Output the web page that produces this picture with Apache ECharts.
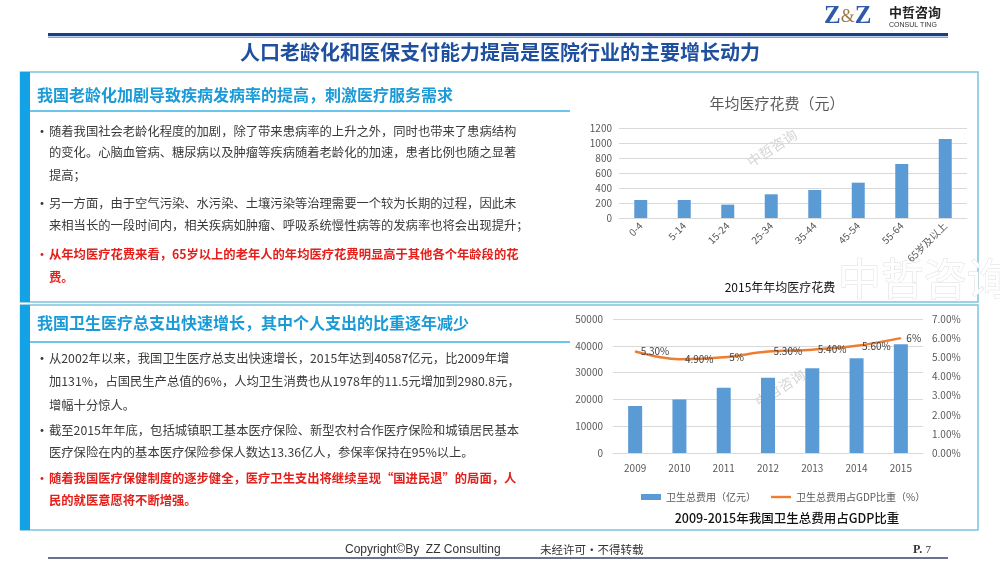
<!DOCTYPE html>
<html>
<head>
<meta charset="utf-8">
<script src="https://cdn.jsdelivr.net/npm/echarts@6/dist/echarts.min.js"></script>
<style>
html,body{margin:0;padding:0;background:#fff;}
#c{width:1000px;height:563px;}
</style>
</head>
<body>
<div id="c"></div>
<script>
// ---- data ----
const ageCats = ['0-4','5-14','15-24','25-34','35-44','45-54','55-64','65岁及以上'];
const ageCost = [240, 240, 178, 316, 373, 471, 720, 1053];
const years = ['2009','2010','2011','2012','2013','2014','2015'];
const healthSpend = [17542, 19980, 24346, 28119, 31669, 35312, 40587];
const gdpShare = [5.3, 4.9, 5.0, 5.3, 5.4, 5.6, 6.0];
const gdpShareLabels = ['5.30%','4.90%','5%','5.30%','5.40%','5.60%','6%'];
const pageTitle = '人口老龄化和医保支付能力提高是医院行业的主要增长动力';
const sec1Title = '我国老龄化加剧导致疾病发病率的提高，刺激医疗服务需求';
const sec1Lines = [
  {t:'随着我国社会老龄化程度的加剧，除了带来患病率的上升之外，同时也带来了患病结构', y:131, b:true},
  {t:'的变化。心脑血管病、糖尿病以及肿瘤等疾病随着老龄化的加速，患者比例也随之显著', y:152},
  {t:'提高；', y:175},
  {t:'另一方面，由于空气污染、水污染、土壤污染等治理需要一个较为长期的过程，因此未', y:203, b:true},
  {t:'来相当长的一段时间内，相关疾病如肿瘤、呼吸系统慢性病等的发病率也将会出现提升；', y:225},
  {t:'从年均医疗花费来看，65岁以上的老年人的年均医疗花费明显高于其他各个年龄段的花', y:254, b:true, red:true},
  {t:'费。', y:277, red:true}
];
const sec2Title = '我国卫生医疗总支出快速增长，其中个人支出的比重逐年减少';
const sec2Lines = [
  {t:'从2002年以来，我国卫生医疗总支出快速增长，2015年达到40587亿元，比2009年增', y:358, b:true},
  {t:'加131%，占国民生产总值的6%，人均卫生消费也从1978年的11.5元增加到2980.8元，', y:381},
  {t:'增幅十分惊人。', y:405},
  {t:'截至2015年年底，包括城镇职工基本医疗保险、新型农村合作医疗保险和城镇居民基本', y:430, b:true},
  {t:'医疗保险在内的基本医疗保险参保人数达13.36亿人，参保率保持在95%以上。', y:452},
  {t:'随着我国医疗保健制度的逐步健全，医疗卫生支出将继续呈现“国进民退”的局面，人', y:478, b:true, red:true},
  {t:'民的就医意愿将不断增强。', y:500, red:true}
];

const FF = "'Noto Sans CJK SC','Noto Sans',sans-serif";
const chart = echarts.init(document.getElementById('c'), null, {renderer:'canvas'});

const g = [];
// header logo
g.push({type:'text', x:824, y:17, style:{text:'{a|Z}{b|&}{a|Z}', rich:{a:{fontFamily:"'Liberation Serif',serif", fontSize:25, fontWeight:'bold', fill:'#2f5aa8'}, b:{fontFamily:"'Liberation Serif',serif", fontSize:18, fill:'#9a7a4a'}}, verticalAlign:'middle'}});
g.push({type:'text', x:889, y:12, style:{text:'中哲咨询', fontFamily:FF, fontSize:13, fontWeight:'bold', fill:'#222', verticalAlign:'middle'}});
g.push({type:'text', x:889, y:25, style:{text:'CONSUL TING', fontFamily:"'Liberation Sans',sans-serif", fontSize:7, fill:'#333', verticalAlign:'middle'}});
// header lines
g.push({type:'rect', shape:{x:48, y:33, width:900, height:3}, style:{fill:'#1c3d8c'}});
g.push({type:'rect', shape:{x:48, y:36.5, width:900, height:1.5}, style:{fill:'#7fa6dc'}});
// page title
g.push({type:'text', x:500, y:52, style:{text:pageTitle, fontFamily:FF, fontSize:20, fontWeight:'bold', fill:'#1f4f9f', align:'center', verticalAlign:'middle'}});

// boxes
function box(y0, y1, title, titleY, lineY, lines){
  g.push({type:'rect', shape:{x:20.5, y:y0, width:957.5, height:y1-y0}, style:{fill:'none', stroke:'#7cc4da', lineWidth:1.5}});
  g.push({type:'rect', shape:{x:20, y:y0, width:10, height:y1-y0}, style:{fill:'#14a2e6'}});
  g.push({type:'text', x:37, y:titleY, style:{text:title, fontFamily:FF, fontSize:16, fontWeight:'bold', fill:'#1a9ad6', verticalAlign:'middle'}});
  g.push({type:'line', shape:{x1:30, y1:lineY, x2:570, y2:lineY}, style:{stroke:'#6cc6ec', lineWidth:2}});
  lines.forEach(l=>{
    const col = l.red ? '#e3201b' : '#3a3a3a';
    if(l.b){
      g.push({type:'text', x:35, y:l.y, style:{text:'•', fontFamily:FF, fontSize:14, fill:col, verticalAlign:'middle'}});
    }
    g.push({type:'text', x:49, y:l.y, style:{text:l.t, fontFamily:FF, fontSize:12.3, fontWeight:l.red?'bold':'normal', fill:col, verticalAlign:'middle'}});
  });
}
box(72, 302, sec1Title, 95, 111, sec1Lines);
box(305, 530, sec2Title, 323, 342, sec2Lines);

// chart titles
g.push({type:'text', x:777, y:103, style:{text:'年均医疗花费（元）', fontFamily:FF, fontSize:15, fill:'#595959', align:'center', verticalAlign:'middle'}});
g.push({type:'text', x:780, y:287, style:{text:'2015年年均医疗花费', fontFamily:FF, fontSize:12, fill:'#111', align:'center', verticalAlign:'middle'}});
g.push({type:'text', x:787, y:518, style:{text:'2009-2015年我国卫生总费用占GDP比重', fontFamily:FF, fontSize:12.5, fontWeight:500, fill:'#111', align:'center', verticalAlign:'middle'}});
// watermarks
g.push({type:'text', x:772, y:148, rotation:Math.PI/5.5, z:-1, style:{text:'中哲咨询', fontFamily:FF, fontSize:14, fill:'#d6d6d6', align:'center', verticalAlign:'middle'}});
g.push({type:'text', x:780, y:388, rotation:Math.PI/5.5, z:-1, style:{text:'中哲咨询', fontFamily:FF, fontSize:14, fill:'#d6d6d6', align:'center', verticalAlign:'middle'}});
g.push({type:'text', x:838, y:279, style:{text:'中哲咨询', fontFamily:FF, fontSize:43, fill:'#ffffff', stroke:'#dedede', lineWidth:1, verticalAlign:'middle'}});
// footer
g.push({type:'text', x:345, y:550, style:{text:'Copyright©By  ZZ Consulting', fontFamily:"'Liberation Sans Narrow','Liberation Sans',sans-serif", fontSize:12, fill:'#333', verticalAlign:'middle'}});
g.push({type:'text', x:540, y:550, style:{text:'未经许可·不得转载', fontFamily:FF, fontSize:11.5, fill:'#333', verticalAlign:'middle'}});
g.push({type:'text', x:913, y:550, style:{text:'{a|P.} {b|7}', rich:{a:{fontFamily:"'Liberation Serif',serif", fontSize:12, fontWeight:'bold', fill:'#333'}, b:{fontFamily:"'Liberation Serif',serif", fontSize:11, fill:'#333'}}, verticalAlign:'middle'}});
g.push({type:'rect', shape:{x:48, y:557, width:900, height:2}, style:{fill:'#6f7190'}});

const axisLbl = {fontFamily:FF, fontSize:10, color:'#595959'};

const option = {
  animation:false,
  backgroundColor:'#fff',
  textStyle:{fontFamily:FF},
  grid:[
    {left:619, top:128, width:348, height:90},
    {left:613, top:319, width:310, height:134}
  ],
  xAxis:[
    {type:'category', gridIndex:0, data:ageCats, axisTick:{show:false}, axisLine:{lineStyle:{color:'#d9d9d9'}}, axisLabel:Object.assign({rotate:45, margin:6, interval:0}, axisLbl)},
    {type:'category', gridIndex:1, data:years, axisTick:{show:false}, axisLine:{lineStyle:{color:'#d9d9d9'}}, axisLabel:Object.assign({margin:10}, axisLbl)}
  ],
  yAxis:[
    {type:'value', gridIndex:0, min:0, max:1200, interval:200, axisLine:{show:false}, axisTick:{show:false}, splitLine:{lineStyle:{color:'#d9d9d9'}}, axisLabel:Object.assign({margin:7, formatter:v=>String(v)}, axisLbl)},
    {type:'value', gridIndex:1, min:0, max:50000, interval:10000, axisLine:{show:false}, axisTick:{show:false}, splitLine:{lineStyle:{color:'#d9d9d9'}}, axisLabel:Object.assign({margin:10, formatter:v=>String(v)}, axisLbl)},
    {type:'value', gridIndex:1, position:'right', min:0, max:7, interval:1, axisLine:{show:false}, axisTick:{show:false}, splitLine:{show:false}, axisLabel:Object.assign({margin:9, formatter:v=>v.toFixed(2)+'%'}, axisLbl)}
  ],
  legend:{
    left:636, top:487, itemWidth:20, itemHeight:6, itemGap:15,
    textStyle:{fontFamily:FF, fontSize:10, color:'#595959'},
    data:[
      {name:'卫生总费用（亿元）', icon:'rect'},
      {name:'卫生总费用占GDP比重（%）', icon:'path://M0,0L20,0L20,2.4L0,2.4Z', itemStyle:{color:'#ed7d31'}}
    ]
  },
  series:[
    {type:'bar', xAxisIndex:0, yAxisIndex:0, data:ageCost, barWidth:13, itemStyle:{color:'#5b9bd5'}},
    {type:'bar', name:'卫生总费用（亿元）', xAxisIndex:1, yAxisIndex:1, data:healthSpend, barWidth:14, itemStyle:{color:'#5b9bd5'}},
    {type:'line', name:'卫生总费用占GDP比重（%）', xAxisIndex:1, yAxisIndex:2, data:gdpShare, smooth:0.35, symbol:'circle', symbolSize:1, showSymbol:true, lineStyle:{color:'#ed7d31', width:2.5}, itemStyle:{color:'#ed7d31'},
      label:{show:true, position:'right', distance:5, fontFamily:FF, fontSize:10, color:'#404040', formatter:p=>gdpShareLabels[p.dataIndex]}}
  ],
  graphic:{elements:g}
};
chart.setOption(option);
</script>
</body>
</html>
